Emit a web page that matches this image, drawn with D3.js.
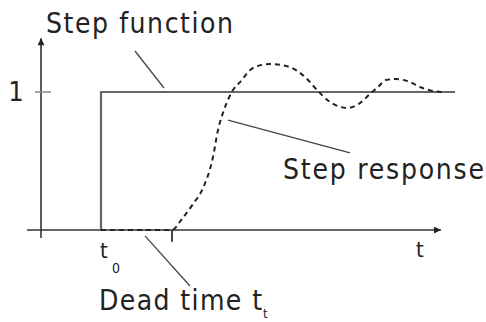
<!DOCTYPE html>
<html><head><meta charset="utf-8">
<script src="https://cdn.jsdelivr.net/npm/d3@7"></script>
<style>body{margin:0;background:#fff}svg{display:block}text{font-family:"DejaVu Sans Condensed","DejaVu Sans",sans-serif;fill:#222}</style>
</head><body><svg id="c" width="486" height="322"></svg>
<script>
// data (time units, response units)
const stepTime = [1.5];
const stepLevel = [1];
const deadTimeEnd = [3.275];
const tEnd = [10.35];
const respT = [1.5,3.275,3.525,3.8,4.05,4.3,4.425,4.575,4.8,4.975,5.3,5.725,6.0,6.375,6.675,6.925,7.225,7.675,7.975,8.25,8.425,8.625,8.875,9.225,9.475,9.8,10.05];
const respY = [0,0,0.08,0.188,0.304,0.529,0.725,0.87,1.014,1.072,1.174,1.203,1.196,1.159,1.087,1.007,0.928,0.884,0.92,0.993,1.036,1.087,1.094,1.072,1.036,1.007,1.0];
const yTicks = ["1"];
const labels = ["Step function","Step response","Dead time t"];

const svg = d3.select("#c");
const x = d3.scaleLinear().domain([0,10]).range([41,441]);
const y = d3.scaleLinear().domain([0,1]).range([230,92]);

svg.append("defs").append("marker").attr("id","arr").attr("viewBox","0 0 10 10")
  .attr("refX",10).attr("refY",5).attr("markerWidth",9).attr("markerHeight",7)
  .attr("markerUnits","userSpaceOnUse").attr("orient","auto")
  .append("path").attr("d","M0,0L10,5L0,10z").attr("fill","#222");

// axes
svg.append("line").attr("x1",x(0)).attr("y1",y(-0.058)).attr("x2",x(0)).attr("y2",y(1.39))
  .attr("stroke","#333").attr("stroke-width",1.6).attr("marker-end","url(#arr)");
svg.append("line").attr("x1",x(-0.35)).attr("y1",y(0)).attr("x2",x(10)).attr("y2",y(0))
  .attr("stroke","#333").attr("stroke-width",1.6).attr("marker-end","url(#arr)");

// y tick
svg.append("line").attr("x1",x(-0.15)).attr("x2",x(0.25)).attr("y1",y(1)).attr("y2",y(1))
  .attr("stroke","#888").attr("stroke-width",1.5);
svg.append("text").attr("x",16).attr("y",y(1)+9).attr("text-anchor","middle").attr("font-size",27).text(yTicks[0]);

// dead-time tick
svg.append("line").attr("x1",x(deadTimeEnd[0])).attr("x2",x(deadTimeEnd[0])).attr("y1",y(0)).attr("y2",y(-0.085))
  .attr("stroke","#333").attr("stroke-width",1.8);

// step function
svg.append("path").attr("fill","none").attr("stroke","#666").attr("stroke-width",2.2)
  .attr("d",d3.line()([[x(stepTime[0]),y(0)],[x(stepTime[0]),y(stepLevel[0])],[x(tEnd[0]),y(stepLevel[0])]]));

// step response
const pts = respT.map((t,i)=>[t,respY[i]]);
svg.append("path").attr("fill","none").attr("stroke","#222").attr("stroke-width",2)
  .attr("stroke-dasharray","5,4")
  .attr("d",d3.line().x(d=>x(d[0])).y(d=>y(d[1])).curve(d3.curveMonotoneX)(pts));

// leader lines
const leaders = [[2.35,1.297,3.075,1.029],[4.675,0.797,7.725,0.558],[2.6,-0.043,3.725,-0.406]];
leaders.forEach(l=>svg.append("line").attr("x1",x(l[0])).attr("y1",y(l[1])).attr("x2",x(l[2])).attr("y2",y(l[3]))
  .attr("stroke","#444").attr("stroke-width",1.3));

// labels
svg.append("text").attr("x",46).attr("y",33).attr("font-size",28).attr("textLength",187).attr("lengthAdjust","spacing").text(labels[0]);
svg.append("text").attr("x",283).attr("y",179).attr("font-size",28).attr("textLength",201).attr("lengthAdjust","spacing").text(labels[1]);
svg.append("text").attr("x",99).attr("y",310).attr("font-size",28).attr("textLength",163).attr("lengthAdjust","spacing").text(labels[2]);
svg.append("text").attr("x",263).attr("y",318).attr("font-size",13).text("t");
svg.append("text").attr("x",x(stepTime[0])-1).attr("y",258).attr("font-size",22).text("t");
svg.append("text").attr("x",112).attr("y",273).attr("font-size",14).text("0");
svg.append("text").attr("x",416).attr("y",257).attr("font-size",22).text("t");
</script></body></html>
